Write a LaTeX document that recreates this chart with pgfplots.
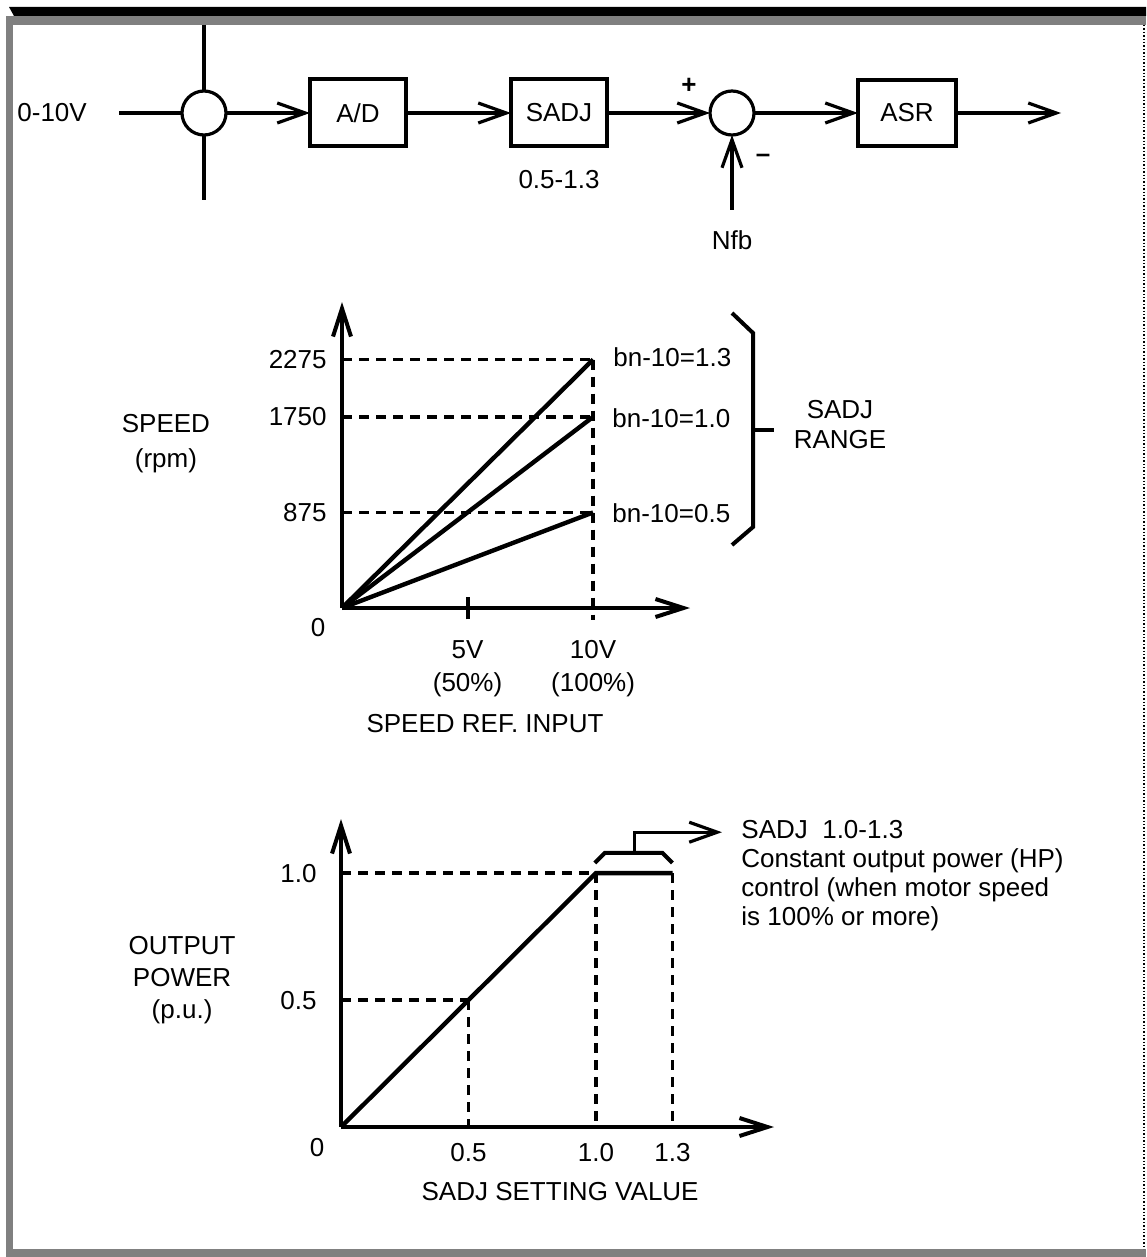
\documentclass[border=0pt]{standalone}
\usepackage{fontspec}
\setmainfont{Liberation Sans}
\usepackage{pgfplots}
\pgfplotsset{compat=1.18}
\usetikzlibrary{arrows.meta}

\begin{document}
\fontsize{13}{16}\selectfont
\begin{tikzpicture}[x=0.5pt,y=0.5pt,font=\fontsize{13}{16}\selectfont,
  arr/.style={line width=1.6pt,-{Straight Barb[length=14pt,width=10pt]}},
  blk/.style={draw,line width=1.6pt}]
% page size and frame
\path (0,0) rectangle (1146,-1257);
\fill (9,-7) -- (1146,-7) -- (1146,-16) -- (14,-16) -- cycle;
\fill[black!50] (6,-16) rectangle (1146,-25);
\fill[black!50] (6,-16) rectangle (13,-1257);
\fill[black!50] (6,-1249) rectangle (1146,-1257);
\draw[densely dotted,line width=0.7pt] (1144,-25) -- (1144,-1249);

% block diagram
\node[anchor=west,inner sep=0pt] at (17,-113) {0-10V};
\draw[line width=1.6pt] (119,-113) -- (182,-113);
\draw[line width=1.6pt] (204,-113) circle[radius=22];
\draw[line width=1.6pt] (204,-25) -- (204,-91) (204,-135) -- (204,-200);
\draw[arr] (226,-113) -- (310,-113);
\draw[blk] (310,-79) rectangle (406,-146);
\node at (358,-113) {A/D};
\draw[arr] (406,-113) -- (511,-113);
\draw[blk] (511,-79) rectangle (607,-146);
\node at (559,-113) {SADJ};
\node at (559,-180) {0.5-1.3};
\draw[arr] (607,-113) -- (710,-113);
\node[font=\fontsize{13}{14}\selectfont\bfseries] at (689,-86) {+};
\node[font=\fontsize{13}{14}\selectfont\bfseries] at (763,-158) {--};
\draw[line width=1.6pt] (732,-113) circle[radius=22];
\draw[arr] (732,-210) -- (732,-135);
\node at (732,-240) {Nfb};
\draw[arr] (754,-113) -- (858,-113);
\draw[blk] (858,-80) rectangle (956,-146);
\node at (907,-113) {ASR};
\draw[arr] (956,-113) -- (1061,-113);

% chart 1: speed vs speed reference
\begin{axis}[at={(171pt,-304pt)},anchor=south west,scale only axis,
  width=174pt,height=153pt,
  xmin=0,xmax=13.86,ymin=0,ymax=2802,
  axis lines=left,clip=false,
  axis line style={line width=2pt,-{Straight Barb[length=14pt,width=9pt]}},
  xtick={5,10},xticklabels={{5V\\(50\%)},{10V\\(100\%)}},
  ytick={875,1750,2275},yticklabels={875,1750,2275},
  major tick length=0pt,
  xticklabel style={align=center,inner sep=0pt,yshift=-16pt,font=\fontsize{13}{16.5}\selectfont},
  yticklabel style={inner sep=0pt,xshift=-7.5pt},
  xlabel={SPEED REF.\ INPUT},
  xlabel style={at={(rel axis cs:0.411,-0.376)},anchor=center},
  ylabel={SPEED\\(rpm)},
  ylabel style={at={(rel axis cs:-0.506,0.536)},anchor=center,rotate=-90,align=center,font=\fontsize{13}{17.5}\selectfont},
  dsh/.style={line width=1.8pt,dash pattern=on 5pt off 3.5pt},
  every axis plot/.append style={mark=none}]
\addplot[dsh] coordinates {(0,2275) (10,2275)};
\addplot[dsh] coordinates {(0,1750) (10,1750)};
\addplot[dsh] coordinates {(0,875) (10,875)};
\addplot[dsh] coordinates {(10,2275) (10,-110)};
\addplot[line width=2pt] coordinates {(5,-105) (5,105)};
\addplot[line width=2.2pt] coordinates {(0,0) (10,2275)};
\addplot[line width=2.2pt] coordinates {(0,0) (10,1750)};
\addplot[line width=2.2pt] coordinates {(0,0) (10,875)};
\end{axis}
\node at (318,-628) {0};
\node[anchor=west,inner sep=0pt] at (613,-357) {bn-10=1.3};
\node[anchor=west,inner sep=0pt] at (612,-418) {bn-10=1.0};
\node[anchor=west,inner sep=0pt] at (612,-513) {bn-10=0.5};
\draw[line width=2pt] (732,-313) -- (753,-333) -- (753,-527) -- (732,-545);
\draw[line width=2pt] (753,-430) -- (774,-430);
\node[align=center,font=\fontsize{13}{15}\selectfont] at (840,-425) {SADJ\\RANGE};

% chart 2: output power vs SADJ setting
\begin{axis}[at={(170.5pt,-563.5pt)},anchor=south west,scale only axis,
  width=216.5pt,height=154pt,
  xmin=0,xmax=1.698,ymin=0,ymax=1.213,
  axis lines=left,clip=false,
  axis line style={line width=2pt,-{Straight Barb[length=14pt,width=9pt]}},
  xtick={0.5,1.0,1.3},xticklabels={0.5,1.0,1.3},
  ytick={0.5,1.0},yticklabels={0.5,1.0},
  major tick length=0pt,
  xticklabel style={inner sep=0pt,yshift=-8pt},
  yticklabel style={inner sep=0pt,xshift=-12pt},
  xlabel={SADJ SETTING VALUE},
  xlabel style={at={(rel axis cs:0.506,-0.208)},anchor=center},
  ylabel={OUTPUT\\POWER\\(p.u.)},
  ylabel style={at={(rel axis cs:-0.367,0.477)},anchor=center,rotate=-90,align=center,font=\fontsize{13}{16}\selectfont},
  dsh/.style={line width=1.8pt,dash pattern=on 5pt off 3.5pt},
  every axis plot/.append style={mark=none}]
\addplot[dsh] coordinates {(0,1) (1,1)};
\addplot[dsh] coordinates {(0,0.5) (0.5,0.5)};
\addplot[dsh] coordinates {(0.5,0.5) (0.5,0)};
\addplot[dsh] coordinates {(1,1) (1,0)};
\addplot[dsh] coordinates {(1.3,1) (1.3,0)};
\addplot[line width=2.2pt] coordinates {(0,0) (1,1) (1.3,1)};
\draw[line width=2pt] (axis cs:0.995,1.04) -- (axis cs:1.035,1.08) -- (axis cs:1.26,1.08) -- (axis cs:1.3,1.04);
\draw[line width=1.6pt,-{Straight Barb[length=14pt,width=10pt]}] (axis cs:1.15,1.08) -- (axis cs:1.15,1.161) -- (axis cs:1.494,1.161);
\end{axis}
\node at (317,-1148) {0};
\node[anchor=north west,inner sep=0pt,align=left,font=\fontsize{13}{14.5}\selectfont] at (741,-820)
  {SADJ\ \ 1.0-1.3\\Constant output power (HP)\\control (when motor speed\\is 100\% or more)};
\end{tikzpicture}
\end{document}
